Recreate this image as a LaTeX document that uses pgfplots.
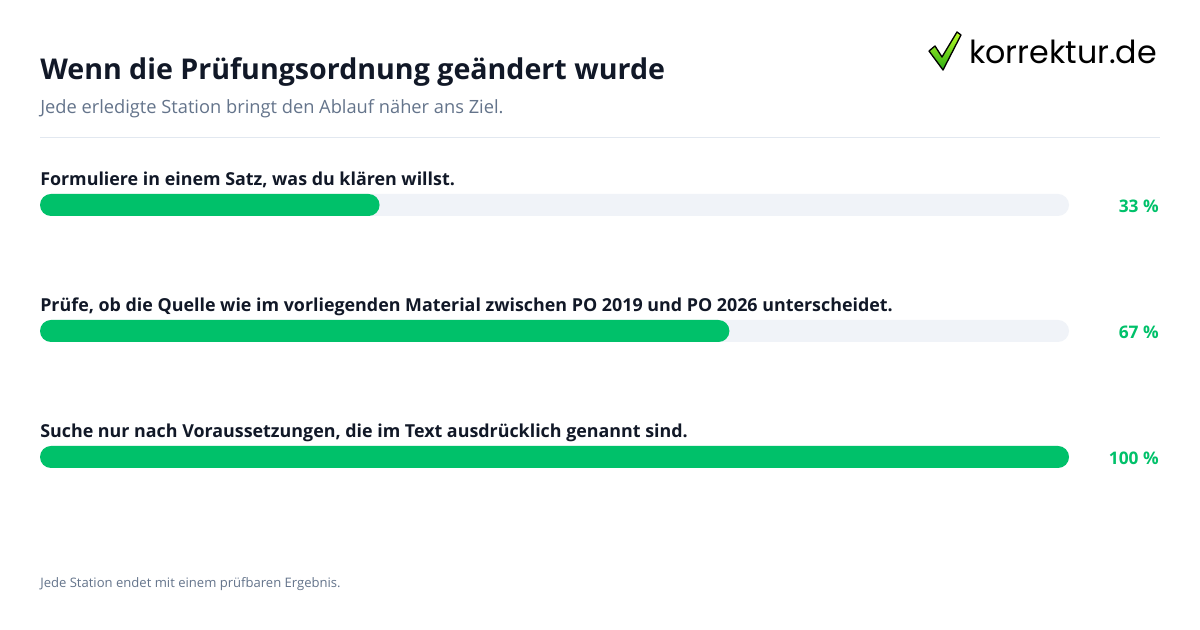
\documentclass[border=0pt]{standalone}
\usepackage{pgfplots}
\pgfplotsset{compat=1.18}
\usepackage{pgfplotstable}
\usepackage{fontspec}
\setmainfont{Open Sans}
\newfontfamily\logofont{Poppins}
\definecolor{ink}{RGB}{17,24,39}
\definecolor{muted}{RGB}{100,116,139}
\definecolor{barg}{RGB}{0,193,106}
\definecolor{track}{RGB}{240,243,248}
\definecolor{rulec}{RGB}{226,232,240}
\definecolor{chkA}{RGB}{190,255,40}
\definecolor{chkB}{RGB}{40,170,20}

\pgfplotstableread{
y v
205 33
331 67
457 100
}\bars

\begin{document}
\begin{tikzpicture}
\begin{axis}[name=canvas, at={(0,0)}, anchor=south west, scale only axis,
  width=900pt, height=472.5pt, xmin=0, xmax=1200, ymin=0, ymax=630,
  y dir=reverse, hide axis, clip=false]
\fill[white] (axis cs:0,0) rectangle (axis cs:1200,630);
\draw[rulec, line width=0.75pt] (axis cs:40,138) -- (axis cs:1160,138);
\node[anchor=base west, inner sep=0, text=ink, font=\fontsize{21.45}{24}\selectfont\bfseries] at (axis cs:40,80) {Wenn die Prüfungsordnung geändert wurde};
\node[anchor=base west, inner sep=0, text=muted, font=\fontsize{13.7}{16}\selectfont] at (axis cs:40,113.5) {Jede erledigte Station bringt den Ablauf näher ans Ziel.};
\node[anchor=base west, inner sep=0, text=ink, font=\fontsize{13.4}{16}\selectfont\bfseries] at (axis cs:40,186) {Formuliere in einem Satz, was du klären willst.};
\node[anchor=base west, inner sep=0, text=ink, font=\fontsize{13.4}{16}\selectfont\bfseries] at (axis cs:40,312) {Prüfe, ob die Quelle wie im vorliegenden Material zwischen PO 2019 und PO 2026 unterscheidet.};
\node[anchor=base west, inner sep=0, text=ink, font=\fontsize{13.4}{16}\selectfont\bfseries] at (axis cs:40,438) {Suche nur nach Voraussetzungen, die im Text ausdrücklich genannt sind.};
\node[anchor=base east, inner sep=0, text=barg, font=\fontsize{13}{15}\selectfont\bfseries] at (axis cs:1159,213) {33 \%};
\node[anchor=base east, inner sep=0, text=barg, font=\fontsize{13}{15}\selectfont\bfseries] at (axis cs:1159,339) {67 \%};
\node[anchor=base east, inner sep=0, text=barg, font=\fontsize{13}{15}\selectfont\bfseries] at (axis cs:1159,465) {100 \%};
\node[anchor=base west, inner sep=0, text=muted, font=\fontsize{9.8}{12}\selectfont] at (axis cs:40,588) {Jede Station endet mit einem prüfbaren Ergebnis.};
% logo
\draw[black, line width=1pt, line join=round, top color=chkA, bottom color=chkB]
  (axis cs:929,51) -- (axis cs:935,46) -- (axis cs:942,57) -- (axis cs:957,32)
  -- (axis cs:961,35) -- (axis cs:943,70) -- cycle;
\node[anchor=base west, inner sep=0, text=black, font=\fontsize{23.8}{28}\selectfont\logofont] at (axis cs:969,64) {korrektur.de};
\end{axis}
\begin{axis}[at={(30pt,0)}, anchor=south west, scale only axis,
  width=771.75pt, height=472.5pt, xmin=0, xmax=100, ymin=0, ymax=630,
  y dir=reverse, hide axis, clip=false]
\addplot[xbar, bar shift=0pt, bar width=16.5pt, draw=none, fill=track, rounded corners=8.25pt] table[x expr=100, y=y]{\bars};
\addplot[xbar, bar shift=0pt, bar width=16.5pt, draw=none, fill=barg, rounded corners=8.25pt] table[x=v, y=y]{\bars};
\end{axis}
\end{tikzpicture}
\end{document}
